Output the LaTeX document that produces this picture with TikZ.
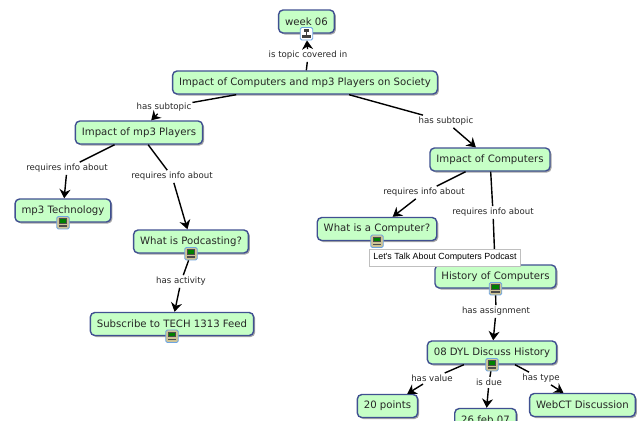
\documentclass[tikz,border=0pt]{standalone}
\usepackage{fontspec}
\setmainfont{DejaVu Sans}
\newfontfamily\tipfont{Liberation Sans}
\usepackage{tikz}
\usetikzlibrary{shadows, arrows.meta}
\definecolor{itemfill}{RGB}{198,255,198}
\definecolor{itemline}{RGB}{64,80,145}
\definecolor{iconline}{RGB}{110,165,225}
\definecolor{iconbody}{RGB}{205,195,150}
\tikzset{
  item/.style={draw=itemline, fill=itemfill, line width=1.4pt, rectangle, rounded corners=4.5pt, align=center, font=\fontsize{10.15}{12}\selectfont, inner xsep=6.5pt, inner ysep=0pt, minimum height=23pt, text=black!85, drop shadow={shadow xshift=1.5pt, shadow yshift=-1.5pt, fill=black, opacity=0.35}},
  link/.style={font=\fontsize{8.6}{10}\selectfont, inner xsep=1pt, inner ysep=2pt, text=black!85},
  line/.style={line width=1.4pt, black},
  arrow/.style={line width=1.4pt, black, -{Stealth[length=9pt, width=11pt]}},
  icon/.style={draw=iconline, fill=iconbody, line width=0.9pt, rounded corners=1.5pt, minimum size=12.5pt, inner sep=0pt,
    path picture={
      \fill[sharp corners, black!70] ([shift={(2pt,-2pt)}]path picture bounding box.north west) rectangle ([shift={(-2pt,-7.5pt)}]path picture bounding box.north east);
      \fill[sharp corners, green!50!black] ([shift={(3pt,-3pt)}]path picture bounding box.north west) rectangle ([shift={(-3pt,-6.5pt)}]path picture bounding box.north east);
      \fill[sharp corners, black!70] ([shift={(2pt,2pt)}]path picture bounding box.south west) rectangle ([shift={(-2pt,3.5pt)}]path picture bounding box.south east);
    }},
  mapicon/.style={draw=iconline, fill=white, line width=0.9pt, rounded corners=1.5pt, minimum size=12.5pt, inner sep=0pt,
    path picture={
      \fill[sharp corners, black!75] ([shift={(1.5pt,1.5pt)}]path picture bounding box.south west) rectangle ([shift={(-1.5pt,5pt)}]path picture bounding box.south east);
      \fill[sharp corners, black!75] ([shift={(-2.5pt,-1.5pt)}]path picture bounding box.north) rectangle ([shift={(2.5pt,-4.5pt)}]path picture bounding box.north);
      \draw[black!75, line width=0.7pt] ([shift={(0pt,-4pt)}]path picture bounding box.north) -- ([shift={(0pt,4pt)}]path picture bounding box.south);
    }},
  tooltip/.style={draw=black!25, fill=white, line width=0.6pt, font=\tipfont\fontsize{8.9}{10}\selectfont, inner xsep=3pt, minimum width=151pt, minimum height=17pt, inner ysep=0pt}
}

\begin{document}
\begin{tikzpicture}[x=1pt, y=-1pt]
    \useasboundingbox (0,0) rectangle (641,421);
    % nodes
    \node (Week)       [item] at (306.5,21.5) {week 06};
    \node (Society)    [item] at (305,82.5) {Impact of Computers and mp3 Players on Society};
    \node (Players)    [item] at (139,132.5) {Impact of mp3 Players};
    \node (Computers)  [item] at (490,159.5) {Impact of Computers};
    \node (Technology) [item] at (63,210.5) {mp3 Technology};
    \node (Podcasting) [item] at (191,241.5) {What is Podcasting?};
    \node (Feed)       [item] at (172,324) {Subscribe to TECH 1313 Feed};
    \node (Computer)   [item] at (377,229) {What is a Computer?};
    \node (History)    [item] at (495.5,276.5) {History of Computers};
    \node (Discuss)    [item] at (492,352.5) {08 DYL Discuss History};
    \node (Points)     [item] at (387.5,406) {20 points};
    \node (Due)        [item] at (485.5,420) {26 feb 07};
    \node (WebCT)      [item] at (582.5,405) {WebCT Discussion};
    % icons
    \node (WeekIcon)       [mapicon] at (Week.south) {};
    \node (TechnologyIcon) [icon] at (Technology.south) {};
    \node (PodcastingIcon) [icon] at (Podcasting.south) {};
    \node (FeedIcon)       [icon] at (Feed.south) {};
    \node (ComputerIcon)   [icon] at (Computer.south) {};
    \node (HistoryIcon)    [icon] at (History.south) {};
    \node (DiscussIcon)    [icon] at (Discuss.south) {};
    % linking phrases
    \node (Covered)    [link] at (308,55.5) {is topic covered in};
    \node (SubLeft)    [link] at (164,107.5) {has subtopic};
    \node (SubRight)   [link] at (446,121.5) {has subtopic};
    \node (InfoTech)   [link] at (67,168.5) {requires info about};
    \node (InfoPod)    [link] at (172,176.5) {requires info about};
    \node (InfoComp)   [link] at (424,192.5) {requires info about};
    \node (InfoHist)   [link] at (493,212.5) {requires info about};
    \node (Activity)   [link] at (181,281.5) {has activity};
    \node (Assignment) [link] at (496,311.5) {has assignment};
    \node (Value)      [link] at (432,378.5) {has value};
    \node (IsDue)      [link] at (489,382.5) {is due};
    \node (Type)       [link] at (541,378.5) {has type};
    % arrows
    \draw [line] (Society) -- (Covered);
    \draw [arrow] (Covered) -- (WeekIcon);
    \draw [line] (Society) -- (SubLeft);
    \draw [arrow] (SubLeft) -- (Players);
    \draw [line] (Society) -- (SubRight);
    \draw [arrow] (SubRight) -- (Computers);
    \draw [line] (Players) -- (InfoTech);
    \draw [arrow] (InfoTech) -- (Technology);
    \draw [line] (Players) -- (InfoPod);
    \draw [arrow] (InfoPod) -- (Podcasting);
    \draw [line] (PodcastingIcon) -- (Activity);
    \draw [arrow] (Activity) -- (Feed);
    \draw [line] (Computers) -- (InfoComp);
    \draw [arrow] (InfoComp) -- (Computer);
    \draw [line] (Computers) -- (InfoHist);
    \draw [arrow] (InfoHist) -- (History);
    \draw [line] (HistoryIcon) -- (Assignment);
    \draw [arrow] (Assignment) -- (Discuss);
    \draw [line] (Discuss) -- (Value);
    \draw [arrow] (Value) -- (Points);
    \draw [line] (DiscussIcon) -- (IsDue);
    \draw [arrow] (IsDue) -- (Due);
    \draw [line] (Discuss) -- (Type);
    \draw [arrow] (Type) -- (WebCT);
    % tooltip
    \node (Podcast) [tooltip] at (445,257.5) {Let's Talk About Computers Podcast};
\end{tikzpicture}
\end{document}
